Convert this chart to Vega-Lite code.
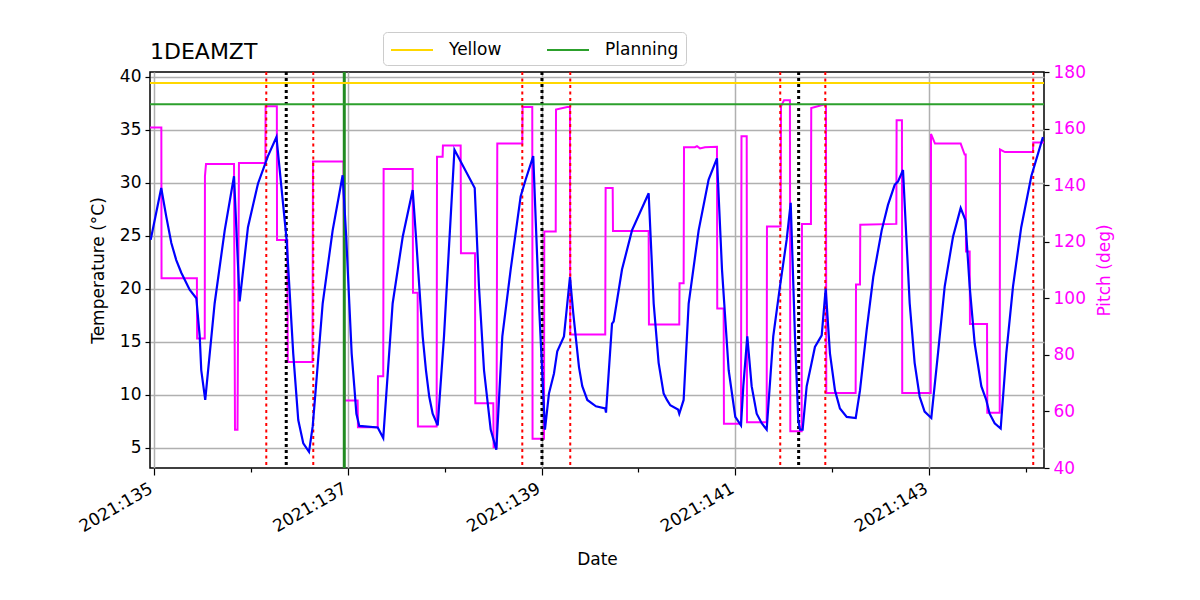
{
 "$schema": "https://vega.github.io/schema/vega-lite/v6.json",
 "width": 894, "height": 396,
 "autosize": {"type": "none"},
 "padding": {"left": 150, "top": 72, "right": 156, "bottom": 132},
 "background": "white",
 "title": {"text": "1DEAMZT", "anchor": "start", "frame": "group", "fontSize": 22, "font": "DejaVu Sans", "fontWeight": "normal", "color": "black", "offset": 0, "baseline": "alphabetic", "dy": 49},
 "config": {
  "view": {"stroke": "black", "strokeWidth": 1.5},
  "axis": {"labelFont": "DejaVu Sans", "titleFont": "DejaVu Sans", "labelFontSize": 17, "titleFontSize": 17, "titleFontWeight": "normal", "labelColor": "black", "titleColor": "black", "tickColor": "black", "tickWidth": 1.2, "domain": false, "labelPadding": 4}
 },
 "datasets": {
  "temp": [
   {"day":134.966,"temp":24.6},{"day":135.075,"temp":29.5},{"day":135.127,"temp":26.8},{"day":135.179,"temp":24.3},{"day":135.230,"temp":22.7},{"day":135.282,"temp":21.5},{"day":135.368,"temp":19.9},{"day":135.437,"temp":19.1},{"day":135.472,"temp":15.5},{"day":135.488,"temp":12.3},{"day":135.529,"temp":9.5},{"day":135.626,"temp":18.6},{"day":135.730,"temp":25.5},{"day":135.826,"temp":30.6},{"day":135.884,"temp":18.8},{"day":135.970,"temp":25.8},{"day":136.073,"temp":29.9},{"day":136.176,"temp":32.5},{"day":136.264,"temp":34.3},{"day":136.369,"temp":24.6},{"day":136.437,"temp":13.9},{"day":136.489,"temp":7.6},{"day":136.541,"temp":5.4},{"day":136.600,"temp":4.6},{"day":136.638,"temp":7.0},{"day":136.672,"temp":10.8},{"day":136.741,"temp":18.6},{"day":136.844,"temp":25.5},{"day":136.947,"temp":30.7},{"day":136.984,"temp":24.9},{"day":137.016,"temp":18.6},{"day":137.040,"temp":13.9},{"day":137.067,"temp":10.8},{"day":137.089,"temp":8.2},{"day":137.119,"temp":7.05},{"day":137.309,"temp":6.9},{"day":137.366,"temp":5.9},{"day":137.463,"temp":18.6},{"day":137.567,"temp":24.9},{"day":137.670,"temp":29.3},{"day":137.704,"temp":24.9},{"day":137.738,"temp":20.2},{"day":137.773,"temp":15.5},{"day":137.807,"temp":12.3},{"day":137.841,"temp":9.8},{"day":137.876,"temp":8.2},{"day":137.928,"temp":7.1},{"day":137.993,"temp":15.5},{"day":138.101,"temp":33.1},{"day":138.310,"temp":29.5},{"day":138.354,"temp":20.2},{"day":138.406,"temp":12.3},{"day":138.475,"temp":6.7},{"day":138.533,"temp":4.8},{"day":138.595,"temp":15.5},{"day":138.681,"temp":21.8},{"day":138.784,"temp":28.7},{"day":138.836,"temp":30.3},{"day":138.914,"temp":32.5},{"day":138.973,"temp":18.6},{"day":139.035,"temp":6.7},{"day":139.076,"temp":10.1},{"day":139.128,"temp":12.0},{"day":139.162,"temp":14.1},{"day":139.231,"temp":15.5},{"day":139.293,"temp":21.1},{"day":139.327,"temp":17.7},{"day":139.352,"temp":15.5},{"day":139.386,"temp":12.6},{"day":139.420,"temp":10.8},{"day":139.472,"temp":9.5},{"day":139.561,"temp":8.9},{"day":139.657,"temp":8.7},{"day":139.665,"temp":8.3},{"day":139.727,"temp":16.7},{"day":139.744,"temp":16.9},{"day":139.830,"temp":21.8},{"day":139.933,"temp":25.5},{"day":140.105,"temp":29.0},{"day":140.157,"temp":18.6},{"day":140.208,"temp":13.0},{"day":140.260,"temp":10.1},{"day":140.294,"temp":9.5},{"day":140.328,"temp":9.0},{"day":140.408,"temp":8.6},{"day":140.421,"temp":8.2},{"day":140.466,"temp":9.5},{"day":140.518,"temp":18.6},{"day":140.621,"temp":25.5},{"day":140.724,"temp":30.3},{"day":140.810,"temp":32.3},{"day":140.862,"temp":21.8},{"day":140.931,"temp":12.3},{"day":140.999,"temp":7.9},{"day":141.058,"temp":7.1},{"day":141.082,"temp":10.8},{"day":141.123,"temp":15.5},{"day":141.168,"temp":10.8},{"day":141.220,"temp":8.2},{"day":141.272,"temp":7.3},{"day":141.323,"temp":6.7},{"day":141.391,"temp":15.5},{"day":141.460,"temp":20.2},{"day":141.529,"temp":24.6},{"day":141.571,"temp":28.1},{"day":141.615,"temp":15.5},{"day":141.649,"temp":7.6},{"day":141.667,"temp":6.7},{"day":141.694,"temp":6.7},{"day":141.736,"temp":10.8},{"day":141.787,"temp":13.0},{"day":141.821,"temp":14.5},{"day":141.891,"temp":15.6},{"day":141.932,"temp":20.0},{"day":141.976,"temp":13.9},{"day":142.028,"temp":10.4},{"day":142.079,"temp":8.7},{"day":142.149,"temp":7.9},{"day":142.242,"temp":7.8},{"day":142.286,"temp":10.4},{"day":142.355,"temp":16.1},{"day":142.423,"temp":21.1},{"day":142.510,"temp":25.5},{"day":142.575,"temp":27.9},{"day":142.644,"temp":29.8},{"day":142.678,"temp":30.1},{"day":142.730,"temp":31.2},{"day":142.764,"temp":24.9},{"day":142.799,"temp":18.6},{"day":142.850,"temp":13.0},{"day":142.902,"temp":9.8},{"day":142.953,"temp":8.4},{"day":143.022,"temp":7.8},{"day":143.091,"temp":13.9},{"day":143.160,"temp":20.2},{"day":143.246,"temp":24.9},{"day":143.325,"temp":27.6},{"day":143.373,"temp":26.5},{"day":143.418,"temp":20.2},{"day":143.470,"temp":14.8},{"day":143.538,"temp":10.8},{"day":143.589,"temp":9.5},{"day":143.624,"temp":8.2},{"day":143.676,"temp":7.3},{"day":143.738,"temp":6.8},{"day":143.796,"temp":13.9},{"day":143.865,"temp":20.2},{"day":143.950,"temp":25.8},{"day":144.054,"temp":30.6},{"day":144.174,"temp":34.3}
  ],
  "pitch": [
   {"day":134.959,"pitch":160.4},{"day":135.076,"pitch":160.4},{"day":135.078,"pitch":107.1},{"day":135.443,"pitch":107.1},{"day":135.445,"pitch":85.8},{"day":135.524,"pitch":85.8},{"day":135.526,"pitch":143.1},{"day":135.537,"pitch":147.5},{"day":135.826,"pitch":147.5},{"day":135.836,"pitch":53.5},{"day":135.862,"pitch":53.5},{"day":135.877,"pitch":147.8},{"day":136.150,"pitch":147.8},{"day":136.152,"pitch":167.9},{"day":136.268,"pitch":167.9},{"day":136.270,"pitch":120.6},{"day":136.376,"pitch":120.6},{"day":136.381,"pitch":77.5},{"day":136.636,"pitch":77.5},{"day":136.641,"pitch":148.4},{"day":136.956,"pitch":148.4},{"day":136.966,"pitch":63.9},{"day":137.102,"pitch":63.9},{"day":137.105,"pitch":54.4},{"day":137.309,"pitch":54.4},{"day":137.312,"pitch":72.4},{"day":137.366,"pitch":72.4},{"day":137.370,"pitch":145.7},{"day":137.670,"pitch":145.7},{"day":137.673,"pitch":102.0},{"day":137.721,"pitch":102.0},{"day":137.724,"pitch":54.7},{"day":137.917,"pitch":54.7},{"day":137.921,"pitch":150.0},{"day":137.979,"pitch":150.0},{"day":137.982,"pitch":154.0},{"day":138.165,"pitch":154.0},{"day":138.168,"pitch":115.9},{"day":138.313,"pitch":115.9},{"day":138.316,"pitch":62.9},{"day":138.502,"pitch":62.9},{"day":138.505,"pitch":47.3},{"day":138.535,"pitch":47.3},{"day":138.543,"pitch":154.7},{"day":138.801,"pitch":154.7},{"day":138.804,"pitch":167.6},{"day":138.904,"pitch":167.6},{"day":138.907,"pitch":50.3},{"day":139.025,"pitch":50.3},{"day":139.028,"pitch":123.6},{"day":139.146,"pitch":123.6},{"day":139.149,"pitch":166.7},{"day":139.265,"pitch":167.6},{"day":139.293,"pitch":167.6},{"day":139.296,"pitch":87.2},{"day":139.657,"pitch":87.2},{"day":139.661,"pitch":139.0},{"day":139.734,"pitch":139.0},{"day":139.737,"pitch":123.8},{"day":140.105,"pitch":123.8},{"day":140.108,"pitch":90.7},{"day":140.421,"pitch":90.7},{"day":140.424,"pitch":105.3},{"day":140.466,"pitch":105.3},{"day":140.470,"pitch":153.4},{"day":140.583,"pitch":153.4},{"day":140.604,"pitch":153.8},{"day":140.635,"pitch":153.0},{"day":140.686,"pitch":153.4},{"day":140.810,"pitch":153.6},{"day":140.813,"pitch":96.4},{"day":140.879,"pitch":96.4},{"day":140.882,"pitch":55.6},{"day":141.058,"pitch":55.6},{"day":141.063,"pitch":157.3},{"day":141.117,"pitch":157.3},{"day":141.120,"pitch":56.2},{"day":141.323,"pitch":56.2},{"day":141.326,"pitch":125.4},{"day":141.467,"pitch":125.4},{"day":141.471,"pitch":167.9},{"day":141.502,"pitch":170.0},{"day":141.563,"pitch":170.0},{"day":141.567,"pitch":53.0},{"day":141.684,"pitch":53.0},{"day":141.687,"pitch":126.3},{"day":141.780,"pitch":126.3},{"day":141.783,"pitch":167.3},{"day":141.907,"pitch":168.4},{"day":141.935,"pitch":168.4},{"day":141.938,"pitch":66.5},{"day":142.241,"pitch":66.5},{"day":142.245,"pitch":104.9},{"day":142.286,"pitch":104.9},{"day":142.289,"pitch":126.0},{"day":142.661,"pitch":126.3},{"day":142.664,"pitch":162.9},{"day":142.719,"pitch":162.9},{"day":142.722,"pitch":66.5},{"day":143.016,"pitch":66.5},{"day":143.019,"pitch":158.1},{"day":143.060,"pitch":154.7},{"day":143.325,"pitch":154.7},{"day":143.366,"pitch":150.8},{"day":143.377,"pitch":150.8},{"day":143.380,"pitch":116.5},{"day":143.418,"pitch":116.5},{"day":143.421,"pitch":90.9},{"day":143.597,"pitch":90.9},{"day":143.600,"pitch":59.5},{"day":143.728,"pitch":59.5},{"day":143.731,"pitch":152.6},{"day":143.782,"pitch":151.7},{"day":144.071,"pitch":151.7},{"day":144.074,"pitch":155.1},{"day":144.185,"pitch":155.1}
  ],
  "red": [{"day":136.159},{"day":136.644},{"day":138.801},{"day":139.296},{"day":141.463},{"day":141.928},{"day":144.074}],
  "black": [{"day":136.365},{"day":139.004},{"day":141.653}],
  "green": [{"day":136.964}],
  "limits": [{"limit":"Yellow","temp":39.4},{"limit":"Planning","temp":37.4}]
 },
 "layer": [
  {
   "data": {"name": "pitch"},
   "mark": {"type": "line", "color": "#ff00ff", "strokeWidth": 2, "clip": true},
   "encoding": {
    "x": {"field": "day", "type": "quantitative", "scale": {"domain": [134.959, 144.185], "nice": false, "zero": false}},
    "y": {"field": "pitch", "type": "quantitative", "scale": {"domain": [40, 180], "nice": false, "zero": false},
     "axis": {"orient": "right", "title": "Pitch (deg)", "values": [40,60,80,100,120,140,160,180], "grid": false, "labelColor": "#ff00ff", "titleColor": "#ff00ff", "tickSize": 5, "titlePadding": 11, "titleAngle": 270, "titleBaseline": "top"}}
   }
  },
  {
   "layer": [
    {
     "data": {"name": "red"},
     "mark": {"type": "rule", "color": "red", "strokeWidth": 2, "strokeDash": [3, 3.5]},
     "encoding": {"x": {"field": "day", "type": "quantitative", "scale": {"domain": [134.959, 144.185], "nice": false, "zero": false}}}
    },
    {
     "data": {"name": "black"},
     "mark": {"type": "rule", "color": "black", "strokeWidth": 3, "strokeDash": [3, 3]},
     "encoding": {"x": {"field": "day", "type": "quantitative", "scale": {"domain": [134.959, 144.185], "nice": false, "zero": false}}}
    },
    {
     "data": {"name": "green"},
     "mark": {"type": "rule", "color": "#228b22", "strokeWidth": 3},
     "encoding": {"x": {"field": "day", "type": "quantitative", "scale": {"domain": [134.959, 144.185], "nice": false, "zero": false}}}
    },
    {
     "data": {"name": "limits"},
     "mark": {"type": "rule", "strokeWidth": 2},
     "encoding": {
      "y": {"field": "temp", "type": "quantitative", "scale": {"domain": [3.08, 40.44], "nice": false, "zero": false}},
      "color": {"field": "limit", "type": "nominal", "scale": {"domain": ["Yellow", "Planning"], "range": ["#ffd700", "#2ca02c"]},
       "legend": {"title": null, "orient": "none", "legendX": 233, "legendY": -40, "direction": "horizontal", "symbolType": "M-1,0H3.2", "symbolSize": 400, "symbolStrokeWidth": 2, "labelFontSize": 17, "labelFont": "DejaVu Sans", "labelColor": "black", "labelOffset": 37, "columnPadding": 41, "padding": 7, "strokeColor": "#cccccc", "fillColor": "white", "cornerRadius": 4}}
     }
    },
    {
     "data": {"name": "temp"},
     "mark": {"type": "line", "color": "#0000ff", "strokeWidth": 2.2, "clip": true},
     "encoding": {
      "x": {"field": "day", "type": "quantitative", "scale": {"domain": [134.959, 144.185], "nice": false, "zero": false},
       "axis": {"title": "Date", "values": [135,136,137,138,139,140,141,142,143,144], "labelExpr": "datum.value % 2 == 1 ? '2021:' + datum.value : ''", "labelAngle": -30, "labelAlign": "right", "labelBaseline": "top", "labelOffset": -7, "labelPadding": 5, "labelOverlap": false, "labelFlush": false, "tickSize": {"condition": {"test": "datum.value % 2 == 1", "value": 7}, "value": 4}, "grid": true, "gridColor": "#b0b0b0", "gridWidth": 1.5, "gridOpacity": {"condition": {"test": "datum.value % 2 == 1", "value": 1}, "value": 0}, "titlePadding": 17}},
      "y": {"field": "temp", "type": "quantitative", "scale": {"domain": [3.08, 40.44], "nice": false, "zero": false},
       "axis": {"orient": "left", "title": "Temperature (°C)", "values": [5,10,15,20,25,30,35,40], "grid": true, "gridColor": "#b0b0b0", "gridWidth": 1.5, "tickSize": 5, "titlePadding": 12}}
     }
    }
   ]
  }
 ],
 "resolve": {"scale": {"y": "independent"}}
}
